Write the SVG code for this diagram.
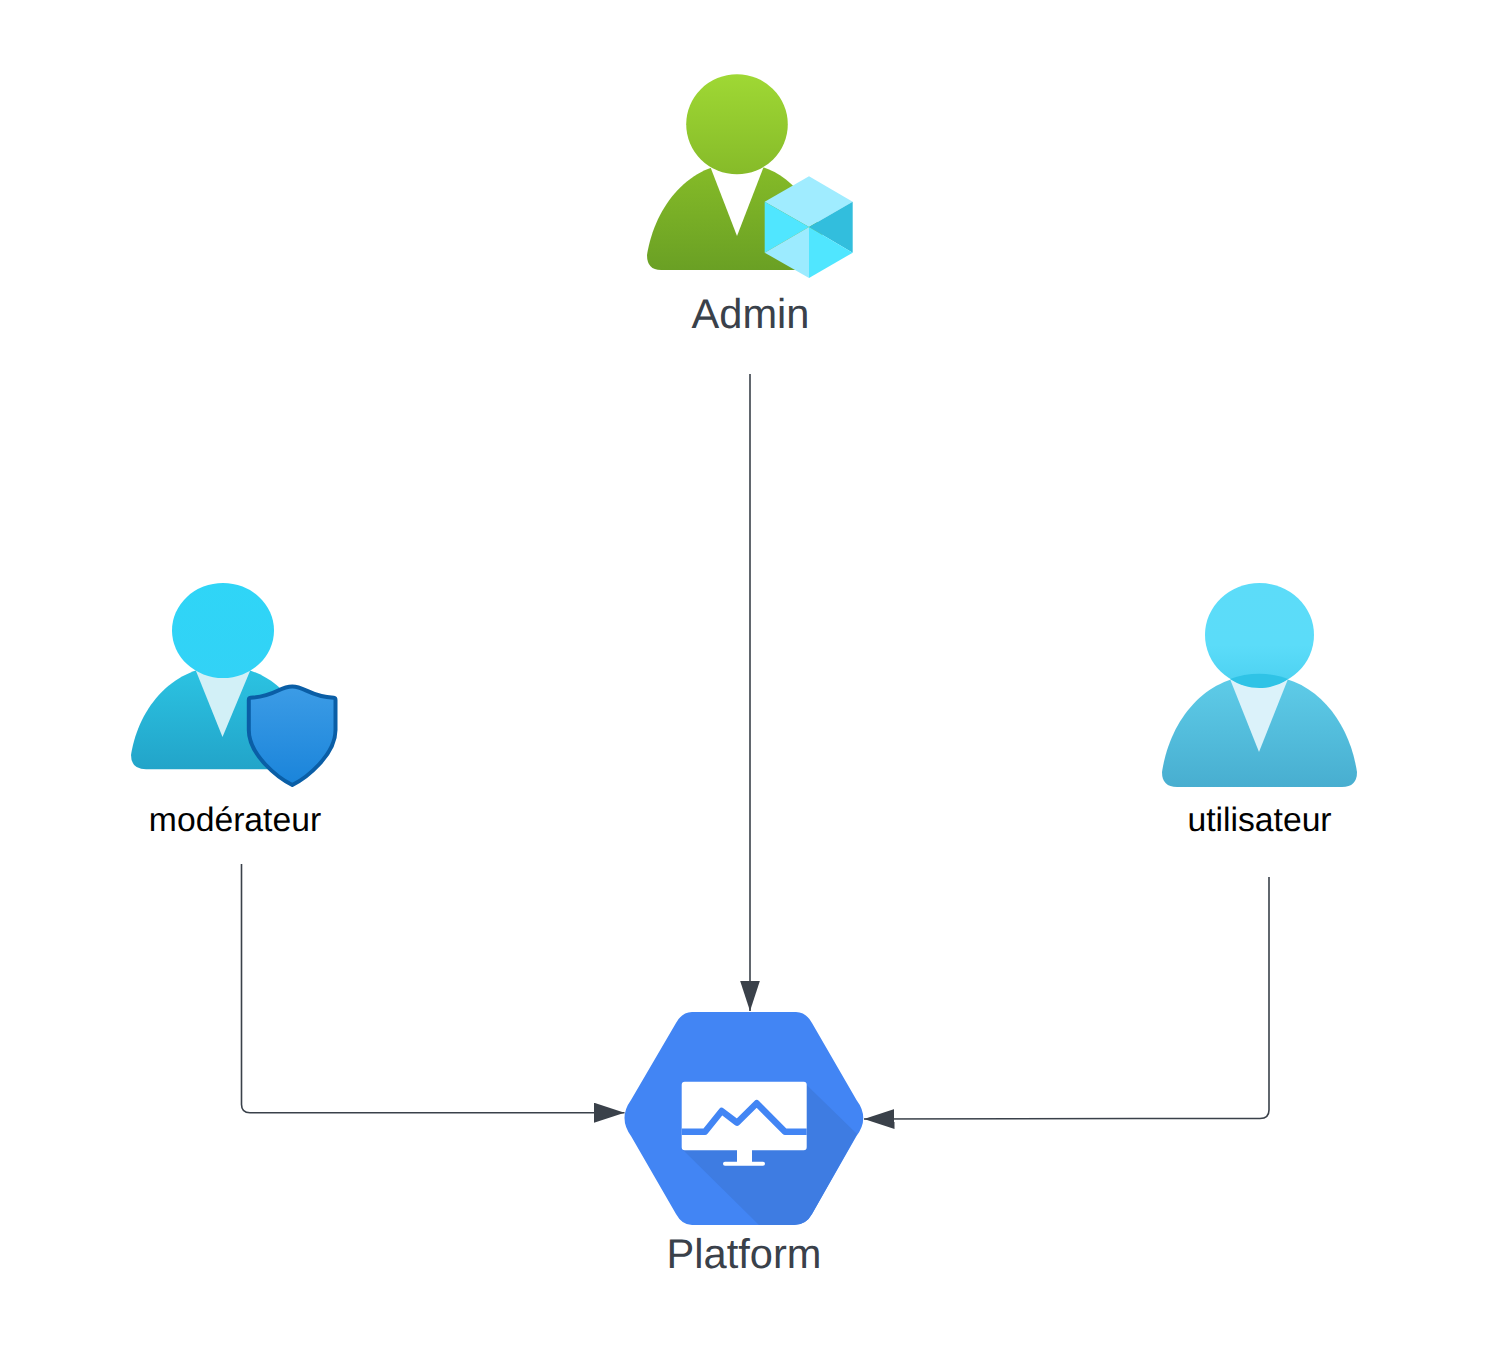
<svg xmlns="http://www.w3.org/2000/svg" width="1489" height="1352" viewBox="0 0 1489 1352">
  <style>
    .lbl { font-family: "Liberation Sans", Arial, sans-serif; text-anchor: middle; text-rendering: geometricPrecision; }
    .big { font-size: 41.6px; fill: #3a414a; }
    .small { font-size: 33.7px; fill: #000; }
    .conn { fill: none; stroke: #3a414a; stroke-width: 1.6; }
  </style>
  <defs>
    <marker id="arrow" markerUnits="userSpaceOnUse" markerWidth="32" markerHeight="22" refX="30.5" refY="10" orient="auto">
      <path d="M0 0L30.5 10L0 20Z" fill="#3a414a"/>
    </marker>
    <linearGradient id="gHead" x1="0" y1="0" x2="0" y2="1"><stop offset="0" stop-color="#9fd834"/><stop offset="1" stop-color="#86bb29"/></linearGradient>
    <linearGradient id="gBody" x1="0" y1="0" x2="0" y2="1"><stop offset="0" stop-color="#86bc28"/><stop offset="1" stop-color="#6aa024"/></linearGradient>
    <linearGradient id="mHead" x1="0" y1="0" x2="0" y2="1"><stop offset="0" stop-color="#2fd5f7"/><stop offset="1" stop-color="#32d2f6"/></linearGradient>
    <linearGradient id="mBody" x1="0" y1="0" x2="0" y2="1"><stop offset="0" stop-color="#2cc4e3"/><stop offset="1" stop-color="#22a4c9"/></linearGradient>
    <linearGradient id="uHead" x1="0" y1="0" x2="0" y2="1"><stop offset="0" stop-color="#5cdcf9"/><stop offset="0.6" stop-color="#5bdcf9"/><stop offset="1" stop-color="#4bd0f0"/></linearGradient>
    <linearGradient id="uBody" x1="0" y1="0" x2="0" y2="1"><stop offset="0" stop-color="#5fcde9"/><stop offset="1" stop-color="#48aed0"/></linearGradient>
    <linearGradient id="shield" x1="0" y1="0" x2="0" y2="1"><stop offset="0" stop-color="#3c9ce6"/><stop offset="1" stop-color="#1a84da"/></linearGradient>
  </defs>

  <g id="connectors">
    <path class="conn" d="M750 374V1011" marker-end="url(#arrow)"/>
    <path class="conn" d="M241.500 864V1104.500Q241.500 1112.700 250 1112.700H624.500" marker-end="url(#arrow)"/>
    <path class="conn" d="M1269 877V1110Q1269 1118.500 1260 1118.500H1137L864 1119" marker-end="url(#arrow)"/>
  </g>

  <g id="admin">
    <path d="M738 163C690 163 655 205 647 255Q647 270 661 270H815Q827 270 827 255C819 205 786 163 738 163Z" fill="url(#gBody)"/>
    <path d="M710 166H764L737 236Z" fill="#fff"/>
    <ellipse cx="737" cy="124.300" rx="50.800" ry="50" fill="url(#gHead)"/>
    <path d="M809 176.300L852.700 201.700L809 227L764.700 201.700Z" fill="#a0ecff"/>
    <path d="M852.700 201.700V252.700L809 227Z" fill="#32bedd"/>
    <path d="M764.700 201.700L809 227L764.700 252.700Z" fill="#50e6ff"/>
    <path d="M764.700 252.700L809 227V278Z" fill="#9cebff"/>
    <path d="M809 227L852.700 252.700L809 278Z" fill="#50e6ff"/>
    <text class="lbl big" x="750.500" y="328">Admin</text>
  </g>

  <g id="moderateur">
    <path d="M223 666C175 666 139 705 131 755Q131 769.300 146 769.300H300Q315 769.300 315 755C307 705 271 666 223 666Z" fill="url(#mBody)"/>
    <path d="M196 671H250L222.500 737Z" fill="#d2f0f7"/>
    <ellipse cx="223" cy="630.500" rx="51" ry="47.500" fill="url(#mHead)"/>
    <path d="M292.300 686.500C279 686.500 275 696.500 250.500 697.800Q248.800 698 248.800 700V730C248.800 755 278 778 292.300 785C306.500 778 335.500 755 335.500 730V700Q335.500 698 333.800 697.800C309.500 696.500 305 686.500 292.300 686.500Z" fill="url(#shield)" stroke="#0a5ea6" stroke-width="4" stroke-linejoin="round"/>
    <text class="lbl small" x="235" y="831">modérateur</text>
  </g>

  <g id="utilisateur">
    <path d="M1259.500 675C1205 675 1170 720 1162 772Q1162 787 1177 787H1342Q1357 787 1357 772C1349 720 1314 675 1259.500 675Z" fill="url(#uBody)"/>
    <path d="M1230 679H1288L1259 752Z" fill="#dbf2fa"/>
    <ellipse cx="1259.500" cy="635" rx="54.500" ry="52" fill="url(#uHead)"/>
    <path d="M1230 679C1248 672 1271 672 1288 679C1271 691 1248 691 1230 679Z" fill="#2fc3e6"/>
    <text class="lbl small" x="1259.500" y="831">utilisateur</text>
  </g>

  <g id="platform">
    <path d="M692 1012H796Q806 1012 812 1023L856.500 1100Q870 1118 856.500 1136L812 1214Q806 1225 794 1225H692Q682 1225 676 1214L631 1136Q618 1118 631 1100L676 1023Q682 1012 692 1012Z" fill="#4285f4"/>
    <path d="M806.700 1085L857 1134L812 1214Q806 1225 794 1225H759L683 1150Z" fill="#3e7ce2"/>
    <path d="M684.700 1081.700H803.700Q806.700 1081.700 806.700 1084.700V1147.300Q806.700 1150.300 803.700 1150.300H752V1161.700H763Q765 1161.700 765 1163.700Q765 1165.700 763 1165.700H725Q723 1165.700 723 1163.700Q723 1161.700 725 1161.700H737V1150.300H684.700Q681.700 1150.300 681.700 1147.300V1084.700Q681.700 1081.700 684.700 1081.700Z" fill="#fff"/>
    <path d="M681.700 1131.700H705L721.700 1111L737 1122.700L756.700 1103.300L785 1131.700H806.700" fill="none" stroke="#4285f4" stroke-width="6.500" stroke-linejoin="round"/>
    <text class="lbl big" x="744" y="1268">Platform</text>
  </g>
</svg>
